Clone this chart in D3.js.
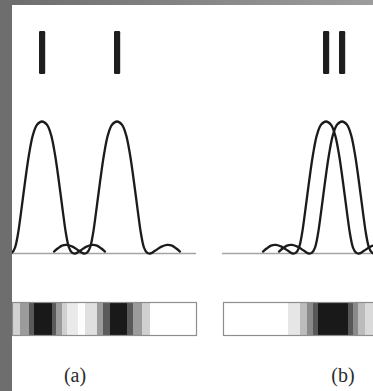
<!DOCTYPE html>
<html>
<head>
<meta charset="utf-8">
<script src="https://cdn.jsdelivr.net/npm/d3@7"></script>
<style>
  html, body { margin: 0; padding: 0; background: #fff; }
  svg { display: block; }
</style>
</head>
<body>
<div id="chart"></div>
<script>
// positions are in units measured from the left edge of the white panel
const peaksA = [30, 105];
const peaksB = [314, 330];

// one diffraction lobe: offset from its centre, relative intensity
const lobeOffsets = [-63, -59, -55, -50, -44, -38, -33, -30, -27, -24, -21, -17, -13, -9, -5, 0,
                     5, 9, 13, 17, 21, 24, 27, 30, 33, 38, 44, 50, 55, 59, 63];
const lobeLevels = [0.015, 0.04, 0.06, 0.065, 0.05, 0.02, 0, 0.006, 0.045, 0.15, 0.31, 0.54, 0.75, 0.9, 0.975, 1,
                    0.975, 0.9, 0.75, 0.54, 0.31, 0.15, 0.045, 0.006, 0, 0.02, 0.05, 0.065, 0.06, 0.04, 0.015];

// grey bands of the intensity strips: band edges and grey level of each band
const stripAEdges = [0, 8, 17, 22, 40, 44, 50, 55, 66, 73, 85, 91, 98, 115, 121, 130, 138, 185];
const stripAGrey = [210, 155, 90, 25, 90, 155, 208, 234, 253, 224, 155, 90, 25, 90, 155, 208, 255];
const stripBEdges = [211, 276, 288, 295, 301, 306, 336, 341, 346, 353, 363];
const stripBGrey = [255, 230, 188, 138, 88, 25, 88, 138, 188, 218];

const panelLabels = ['(a)', '(b)'];
const baselineA = [0, 184];
const baselineB = [210, 361];

const width = 373, height = 391;
const frame = { left: 12, top: 5 };

const x = d3.scaleLinear().domain([0, 361]).range([frame.left, width]);
const y = d3.scaleLinear().domain([0, 1]).range([253.5, 121.5]);

const svg = d3.select('#chart').append('svg')
  .attr('width', width)
  .attr('height', height);

const defs = svg.append('defs');
const topGrad = defs.append('linearGradient').attr('id', 'topband');
topGrad.append('stop').attr('offset', '0%').attr('stop-color', '#6c6c6c');
topGrad.append('stop').attr('offset', '100%').attr('stop-color', '#9d9d9d');

svg.append('rect').attr('width', width).attr('height', height).attr('fill', '#fff');

const line = d3.line()
  .x(d => x(d[0]))
  .y(d => y(d[1]))
  .curve(d3.curveCatmullRom.alpha(0.5));

function lobe(centre) {
  return lobeOffsets.map((o, i) => [centre + o, lobeLevels[i]]);
}

// baselines
svg.append('g')
  .selectAll('line')
  .data([baselineA, baselineB])
  .enter().append('line')
  .attr('x1', d => x(d[0]))
  .attr('x2', d => x(d[1]))
  .attr('y1', y(0))
  .attr('y2', y(0))
  .attr('stroke', '#a4a4a4')
  .attr('stroke-width', 1.5);

// lobes
svg.append('g')
  .selectAll('path')
  .data(peaksA.concat(peaksB))
  .enter().append('path')
  .attr('d', d => line(lobe(d)))
  .attr('fill', 'none')
  .attr('stroke', '#1b1b1b')
  .attr('stroke-width', 2.3)
  .attr('stroke-linecap', 'round')
  .attr('stroke-linejoin', 'round');

// point sources drawn as bars above each peak
svg.append('g')
  .selectAll('rect')
  .data(peaksA.concat(peaksB))
  .enter().append('rect')
  .attr('x', d => x(d) - 3)
  .attr('y', 31)
  .attr('width', 6.2)
  .attr('height', 43)
  .attr('rx', 1.2)
  .attr('fill', '#1e1e1e');

// intensity strips
function strip(edges, greys) {
  const g = svg.append('g');
  g.selectAll('rect')
    .data(greys)
    .enter().append('rect')
    .attr('x', (d, i) => x(edges[i]))
    .attr('y', 302)
    .attr('width', (d, i) => x(edges[i + 1]) - x(edges[i]) + 0.5)
    .attr('height', 34)
    .attr('fill', d => d3.rgb(d, d, d));
  g.append('rect')
    .attr('x', x(edges[0]) + 0.5)
    .attr('y', 302.5)
    .attr('width', x(edges[edges.length - 1]) - x(edges[0]) - 1)
    .attr('height', 33)
    .attr('fill', 'none')
    .attr('stroke', '#8e8e8e')
    .attr('stroke-width', 1.2);
}
strip(stripAEdges, stripAGrey);
strip(stripBEdges, stripBGrey);

svg.append('g')
  .selectAll('text')
  .data(panelLabels)
  .enter().append('text')
  .attr('x', (d, i) => x(i === 0 ? 63 : 331))
  .attr('y', 382)
  .attr('text-anchor', 'middle')
  .attr('font-family', '"Liberation Serif", "DejaVu Serif", serif')
  .attr('font-size', 20)
  .attr('fill', '#2b2b2b')
  .text(d => d);

// grey frame on the left and top
svg.append('rect').attr('x', 0).attr('y', 0).attr('width', width).attr('height', frame.top).attr('fill', 'url(#topband)');
svg.append('rect').attr('x', 0).attr('y', 0).attr('width', frame.left).attr('height', height).attr('fill', '#6e6e6e');
</script>
</body>
</html>
